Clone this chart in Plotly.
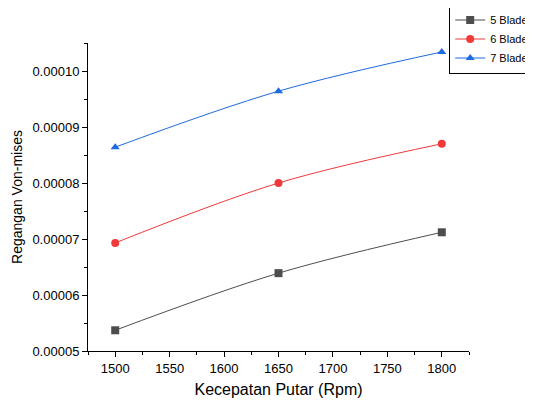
import plotly.graph_objects as go

rpm = [1500, 1650, 1800]
blade5 = [0.0000537, 0.0000639, 0.0000712]
blade6 = [0.0000693, 0.0000800, 0.0000870]
blade7 = [0.0000864, 0.0000964, 0.0001034]
names = ["5 Blade", "6 Blade", "7 Blade"]
colors = ["#4d4d4d", "#f03a3a", "#1e6ae0"]
symbols = ["square", "circle", "triangle-up"]

fig = go.Figure()
for name, vals, c, s in zip(names, [blade5, blade6, blade7], colors, symbols):
    fig.add_trace(go.Scatter(
        x=rpm, y=vals, name=name, mode="lines+markers",
        line=dict(color=c, width=1, shape="spline"),
        marker=dict(symbol=s, size=8, color=c),
    ))

axis_common = dict(
    showline=True, linecolor="black", linewidth=1, mirror=False,
    ticks="outside", ticklen=5, tickcolor="black", showgrid=False, zeroline=False,
    tickfont=dict(family="Liberation Sans, Arial", size=13, color="black"),
)

# page body has an 8px margin, so the figure is sized 8px smaller
fig.update_layout(
    width=525, height=393,
    margin=dict(l=80, r=64, t=35, b=50, autoexpand=False),
    plot_bgcolor="white", paper_bgcolor="white",
    font=dict(family="Liberation Sans, Arial", size=12, color="black"),
    xaxis=dict(range=[1475, 1825], tickvals=[1500, 1550, 1600, 1650, 1700, 1750, 1800],
               title=dict(text="Kecepatan Putar (Rpm)", font=dict(size=16), standoff=9),
               minor=dict(ticks="outside", ticklen=3, tickcolor="black", dtick=25, tick0=1475),
               automargin=False, **axis_common),
    yaxis=dict(range=[0.00005, 0.000105], tickformat=".5f", dtick=0.00001, tick0=0.00005,
               title=dict(text="Regangan Von-mises", font=dict(size=14), standoff=6),
               minor=dict(ticks="outside", ticklen=3, tickcolor="black", dtick=0.000005, tick0=0.00005),
               automargin=False, **axis_common),
    legend=dict(x=0.948, y=1.125, xanchor="left", yanchor="top",
                bordercolor="black", borderwidth=1, bgcolor="white",
                font=dict(size=11), tracegroupgap=0, itemwidth=30),
    showlegend=True,
)

fig.write_html("out.html")
